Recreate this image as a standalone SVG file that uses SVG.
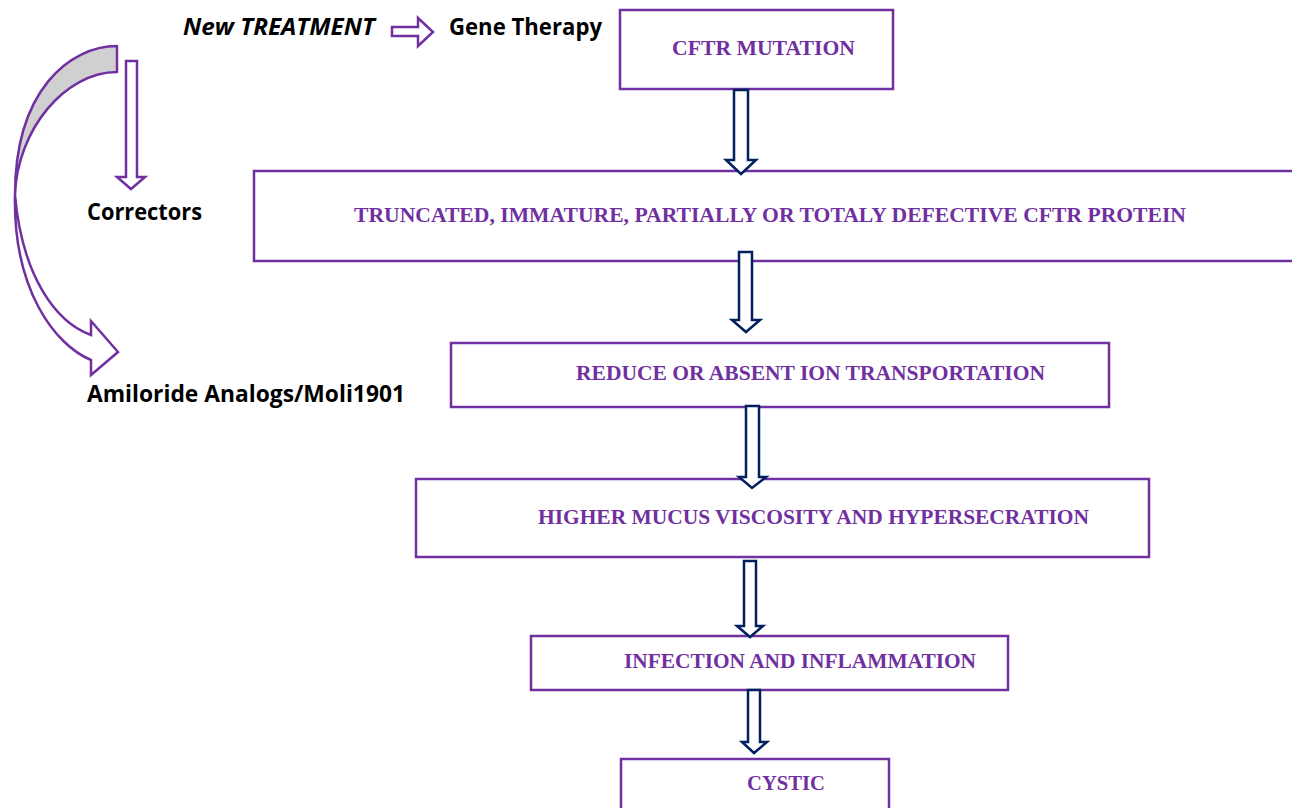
<svg xmlns="http://www.w3.org/2000/svg" width="1292" height="808" viewBox="0 0 1292 808">
<style>
.box{fill:#fff;stroke:#7030A0;stroke-width:2.5}
.lbl{font-family:"Liberation Serif","Times New Roman",serif;font-weight:bold;font-size:21px;fill:#7030A0}
.blk{font-family:"Open Sans","Liberation Sans",sans-serif;font-weight:bold;font-size:23px;fill:#000}
.conn{fill:#fff;stroke:#002060;stroke-width:2.5;stroke-linejoin:miter}
.parr{fill:#fff;stroke:#7030A0;stroke-width:2.5;stroke-linejoin:miter}
</style>
<rect width="1292" height="808" fill="#fff"/>
<g id="treatments">
<text class="blk" x="183" y="35" font-style="italic" textLength="192" lengthAdjust="spacingAndGlyphs">New TREATMENT</text>
<text class="blk" x="449" y="35" textLength="153" lengthAdjust="spacingAndGlyphs">Gene Therapy</text>
<text class="blk" x="87" y="220" textLength="115" lengthAdjust="spacingAndGlyphs">Correctors</text>
<text class="blk" x="87" y="402" textLength="318" lengthAdjust="spacingAndGlyphs">Amiloride Analogs/Moli1901</text>
<path class="parr" d="M392,27 L418,27 L418,18 L433,32 L418,46 L418,36 L392,36 Z"/>
<path class="parr" d="M126,61 L137,61 L137,177 L145,177 L131,189 L117,177 L126,177 Z"/>
<path d="M117,46 C70,46 15,90 15,195 C17,130 65,72 117,72 Z" fill="#d0d0d0" stroke="#7030A0" stroke-width="2.5" stroke-linejoin="round"/>
<path class="parr" d="M15,195 C13,290 55,345 91,360 L91,375 L118,352 L91,321 L91,335 C55,322 22,275 15,195 Z"/>
</g>
<g id="n1"><rect class="box" x="620" y="10" width="273" height="79"/><text class="lbl" x="672" y="55" textLength="183" lengthAdjust="spacingAndGlyphs">CFTR MUTATION</text></g>
<g id="n2"><rect class="box" x="254" y="171" width="1050" height="90"/><text class="lbl" x="354" y="222" textLength="832" lengthAdjust="spacingAndGlyphs">TRUNCATED, IMMATURE, PARTIALLY OR TOTALY DEFECTIVE CFTR PROTEIN</text></g>
<g id="n3"><rect class="box" x="451" y="343" width="658" height="64"/><text class="lbl" x="576" y="380" textLength="469" lengthAdjust="spacingAndGlyphs">REDUCE OR ABSENT ION TRANSPORTATION</text></g>
<g id="n4"><rect class="box" x="416" y="479" width="733" height="78"/><text class="lbl" x="538" y="524" textLength="551" lengthAdjust="spacingAndGlyphs">HIGHER MUCUS VISCOSITY AND HYPERSECRATION</text></g>
<g id="n5"><rect class="box" x="531" y="636" width="477" height="54"/><text class="lbl" x="624" y="668" textLength="352" lengthAdjust="spacingAndGlyphs">INFECTION AND INFLAMMATION</text></g>
<g id="n6"><rect class="box" x="621" y="759" width="268" height="60"/><text class="lbl" x="747" y="790" textLength="78" lengthAdjust="spacingAndGlyphs">CYSTIC</text></g>
<g id="connectors">
<path class="conn" d="M734,90 L748,90 L748,160 L756,160 L741,174 L726,160 L734,160 Z"/>
<path class="conn" d="M739,252 L752,252 L752,320 L760,320 L746,332 L732,320 L739,320 Z"/>
<path class="conn" d="M746,406 L759,406 L759,477 L766,477 L752,488 L739,477 L746,477 Z"/>
<path class="conn" d="M744,561 L756,561 L756,626 L763,626 L750,637 L737,626 L744,626 Z"/>
<path class="conn" d="M748,690 L760,690 L760,742 L767,742 L754,753 L742,742 L748,742 Z"/>
</g>
</svg>
